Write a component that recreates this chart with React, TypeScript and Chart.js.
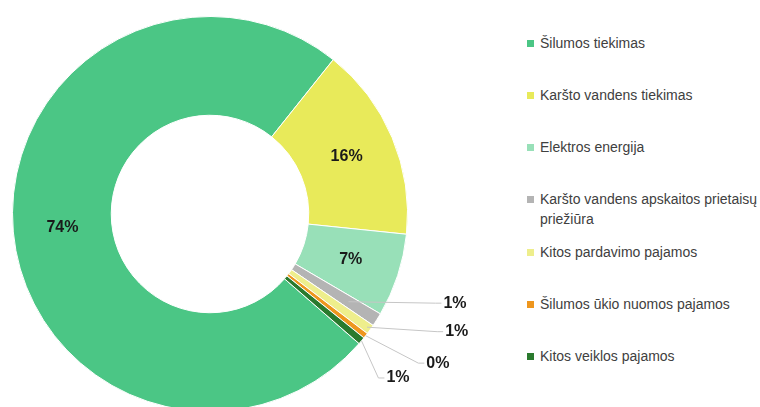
import React, { useEffect, useRef } from 'react';
import { Chart, registerables } from 'chart.js';

Chart.register(...registerables);

const categories = [
  'Šilumos tiekimas',
  'Karšto vandens tiekimas',
  'Elektros energija',
  'Karšto vandens apskaitos prietaisų priežiūra',
  'Kitos pardavimo pajamos',
  'Šilumos ūkio nuomos pajamos',
  'Kitos veiklos pajamos',
];
const shares = [74.3, 15.9, 6.8, 1.1, 0.8, 0.45, 0.6];
const colors = ['#4BC685', '#E8EA5A', '#98E0B8', '#B4B4B4', '#EEEE8C', '#EE961E', '#2A7A2E'];

// Callout layout for the small slices (null = label inside the ring)
const calloutAngle: (number | null)[] = [null, null, null, 110, 115.5, 123.2, 131.1];
const calloutRadius: (number | null)[] = [null, null, null, 1.32, 1.384, 1.379, 1.263];
const leaderStart: (number | null)[] = [null, null, null, 0.83, 0.98, 1.0, 1.0];

const FONT = '"Liberation Sans", Arial, Helvetica, sans-serif';

const labelsPlugin = {
  id: 'pctLabels',
  afterDatasetsDraw(chart: any) {
    const ctx = chart.ctx;
    const meta = chart.getDatasetMeta(0);
    const total = shares.reduce((a, b) => a + b, 0);
    ctx.save();
    ctx.font = `bold 16px ${FONT}`;
    ctx.textAlign = 'center';
    ctx.textBaseline = 'middle';
    meta.data.forEach((arc: any, i: number) => {
      const pct = Math.round((shares[i] / total) * 100) + '%';
      const { x, y, startAngle, endAngle, outerRadius } = arc.getProps(
        ['x', 'y', 'startAngle', 'endAngle', 'outerRadius'],
        true
      );
      const ang = calloutAngle[i];
      if (ang == null) {
        const p = arc.tooltipPosition(true);
        ctx.fillStyle = '#1a1a1a';
        ctx.fillText(pct, p.x, p.y);
      } else {
        const mid = (startAngle + endAngle) / 2;
        const sr = outerRadius * (leaderStart[i] as number);
        const sx = x + Math.cos(mid) * sr;
        const sy = y + Math.sin(mid) * sr;
        const la = ((ang - 90) * Math.PI) / 180;
        const lr = outerRadius * (calloutRadius[i] as number);
        const lx = x + Math.cos(la) * lr;
        const ly = y + Math.sin(la) * lr;
        const w = ctx.measureText(pct).width;
        const left = lx - w / 2;
        ctx.strokeStyle = '#c6c6c6';
        ctx.lineWidth = 1;
        ctx.beginPath();
        ctx.moveTo(sx, sy);
        ctx.lineTo(left - 8, ly);
        ctx.lineTo(left - 2, ly);
        ctx.stroke();
        ctx.fillStyle = '#1a1a1a';
        ctx.fillText(pct, lx, ly);
      }
    });
    ctx.restore();
  },
};

export default function App() {
  const canvasRef = useRef<HTMLCanvasElement | null>(null);

  useEffect(() => {
    const canvas = canvasRef.current;
    if (!canvas) return;
    const chart = new Chart(canvas, {
      type: 'doughnut',
      data: {
        labels: categories,
        datasets: [
          {
            data: shares,
            backgroundColor: colors,
            borderColor: '#ffffff',
            borderWidth: 1,
            hoverOffset: 0,
          },
        ],
      },
      options: {
        responsive: false,
        maintainAspectRatio: false,
        animation: false,
        cutout: '50%',
        rotation: 131,
        layout: { padding: { left: 12, right: 92, top: 16, bottom: 16 } },
        plugins: {
          legend: { display: false },
          tooltip: { enabled: false },
        },
      },
      plugins: [labelsPlugin],
    });
    return () => chart.destroy();
  }, []);

  const pitch = 52.2;
  return (
    <div
      style={{
        position: 'absolute',
        left: 0,
        top: 0,
        width: 760,
        height: 407,
        overflow: 'hidden',
        background: '#ffffff',
      }}
    >
      <canvas
        ref={canvasRef}
        width={500}
        height={428}
        style={{ position: 'absolute', left: 0, top: 0, width: 500, height: 428, display: 'block' }}
      />
      {categories.map((c, i) => (
        <div
          key={c}
          style={{
            position: 'absolute',
            left: 527,
            top: 32.8 + i * pitch,
            width: 233,
            display: 'flex',
            alignItems: 'flex-start',
          }}
        >
          <span
            style={{
              display: 'inline-block',
              width: 7,
              height: 7,
              marginTop: 7,
              background: colors[i],
              flex: '0 0 auto',
            }}
          />
          <span
            style={{
              marginLeft: 6,
              width: 222,
              fontFamily: FONT,
              fontSize: 14,
              lineHeight: '20px',
              color: '#404040',
            }}
          >
            {c}
          </span>
        </div>
      ))}
    </div>
  );
}
